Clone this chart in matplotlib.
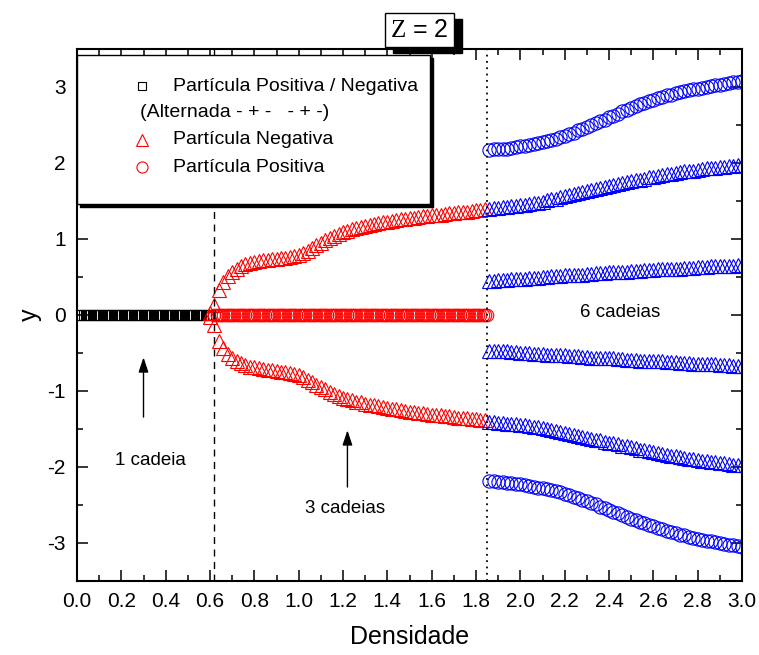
import numpy as np
import matplotlib
matplotlib.use('Agg')
import matplotlib.pyplot as plt
import matplotlib.font_manager as fm
from matplotlib.patches import Rectangle
from matplotlib.transforms import IdentityTransform

# single chain (alternating charges) and the 3-chain y=0 row
x_single = np.round(np.arange(0.0, 0.601, 0.01), 2)
y_single = np.zeros(len(x_single))
x_mid = np.round(np.arange(0.62, 1.851, 0.01), 2)
y_mid = np.zeros(len(x_mid))

# negative particles, 3-chain regime
x_red = np.round(np.arange(0.60, 1.841, 0.02), 2)
red_upper = [0.02, 0.13, 0.33, 0.43, 0.51, 0.57, 0.61, 0.64, 0.67, 0.68,
             0.70, 0.71, 0.72, 0.72, 0.74, 0.74, 0.75, 0.75, 0.76, 0.78,
             0.79, 0.82, 0.84, 0.88, 0.92, 0.95, 0.99, 1.01, 1.04, 1.07,
             1.09, 1.11, 1.13, 1.14, 1.16, 1.17, 1.18, 1.20, 1.21, 1.22,
             1.23, 1.24, 1.25, 1.26, 1.26, 1.28, 1.28, 1.29, 1.30, 1.30,
             1.31, 1.32, 1.32, 1.33, 1.34, 1.34, 1.35, 1.36, 1.36, 1.37,
             1.38, 1.38, 1.39]
red_lower = [-0.02, -0.13, -0.34, -0.44, -0.51, -0.56, -0.60, -0.63, -0.66, -0.68,
             -0.69, -0.70, -0.71, -0.72, -0.73, -0.74, -0.75, -0.75, -0.76, -0.77,
             -0.79, -0.82, -0.85, -0.88, -0.92, -0.95, -0.98, -1.01, -1.04, -1.06,
             -1.09, -1.11, -1.12, -1.14, -1.15, -1.17, -1.18, -1.19, -1.20, -1.21,
             -1.23, -1.24, -1.24, -1.25, -1.26, -1.27, -1.28, -1.29, -1.29, -1.30,
             -1.31, -1.31, -1.32, -1.33, -1.33, -1.34, -1.35, -1.35, -1.36, -1.37,
             -1.37, -1.38, -1.38]

# 6-chain regime
x_blue = np.round(np.arange(1.86, 3.001, 0.02), 2)
blue_c1 = [2.17, 2.18, 2.18, 2.19, 2.19, 2.20, 2.21, 2.22, 2.23, 2.24,
           2.25, 2.26, 2.27, 2.29, 2.30, 2.32, 2.34, 2.36, 2.38, 2.40,
           2.43, 2.45, 2.47, 2.50, 2.52, 2.55, 2.57, 2.60, 2.62, 2.65,
           2.68, 2.70, 2.73, 2.75, 2.77, 2.79, 2.81, 2.83, 2.85, 2.87,
           2.89, 2.90, 2.92, 2.93, 2.95, 2.96, 2.97, 2.98, 2.99, 3.00,
           3.01, 3.02, 3.03, 3.04, 3.05, 3.06, 3.07, 3.08]
blue_t2 = [1.40, 1.41, 1.41, 1.42, 1.42, 1.43, 1.44, 1.45, 1.45, 1.46,
           1.47, 1.48, 1.49, 1.51, 1.52, 1.53, 1.55, 1.56, 1.58, 1.59,
           1.60, 1.62, 1.63, 1.64, 1.66, 1.67, 1.68, 1.70, 1.71, 1.72,
           1.74, 1.75, 1.76, 1.77, 1.78, 1.79, 1.81, 1.82, 1.83, 1.84,
           1.85, 1.86, 1.87, 1.88, 1.89, 1.90, 1.90, 1.91, 1.92, 1.93,
           1.93, 1.94, 1.95, 1.95, 1.96, 1.96, 1.97, 1.97]
blue_t3 = [0.45, 0.45, 0.46, 0.46, 0.46, 0.47, 0.47, 0.48, 0.48, 0.49,
           0.49, 0.49, 0.50, 0.50, 0.51, 0.51, 0.51, 0.52, 0.52, 0.53,
           0.53, 0.53, 0.54, 0.54, 0.55, 0.55, 0.55, 0.56, 0.56, 0.56,
           0.57, 0.57, 0.58, 0.58, 0.58, 0.59, 0.59, 0.59, 0.60, 0.60,
           0.60, 0.61, 0.61, 0.61, 0.62, 0.62, 0.62, 0.63, 0.63, 0.63,
           0.64, 0.64, 0.64, 0.65, 0.65, 0.65, 0.66, 0.66]
blue_t4 = [-0.47, -0.47, -0.48, -0.48, -0.48, -0.49, -0.49, -0.50, -0.50, -0.50,
           -0.51, -0.51, -0.51, -0.52, -0.52, -0.53, -0.53, -0.53, -0.54, -0.54,
           -0.54, -0.55, -0.55, -0.56, -0.56, -0.56, -0.57, -0.57, -0.57, -0.58,
           -0.58, -0.59, -0.59, -0.59, -0.60, -0.60, -0.60, -0.61, -0.61, -0.61,
           -0.62, -0.62, -0.62, -0.63, -0.63, -0.63, -0.64, -0.64, -0.64, -0.65,
           -0.65, -0.65, -0.66, -0.66, -0.66, -0.67, -0.67, -0.67]
blue_t5 = [-1.41, -1.41, -1.42, -1.42, -1.43, -1.43, -1.44, -1.45, -1.45, -1.46,
           -1.47, -1.48, -1.49, -1.50, -1.51, -1.52, -1.54, -1.55, -1.56, -1.58,
           -1.59, -1.60, -1.62, -1.63, -1.64, -1.65, -1.67, -1.68, -1.69, -1.70,
           -1.72, -1.73, -1.74, -1.75, -1.77, -1.78, -1.79, -1.80, -1.81, -1.83,
           -1.84, -1.85, -1.86, -1.87, -1.88, -1.89, -1.90, -1.91, -1.92, -1.92,
           -1.93, -1.94, -1.95, -1.95, -1.96, -1.97, -1.97, -1.98]
blue_c6 = [-2.19, -2.19, -2.20, -2.20, -2.21, -2.21, -2.22, -2.23, -2.24, -2.25,
           -2.26, -2.27, -2.28, -2.29, -2.30, -2.32, -2.33, -2.35, -2.37, -2.39,
           -2.41, -2.43, -2.45, -2.47, -2.49, -2.52, -2.54, -2.56, -2.59, -2.61,
           -2.63, -2.66, -2.68, -2.70, -2.72, -2.74, -2.76, -2.78, -2.80, -2.82,
           -2.84, -2.86, -2.87, -2.89, -2.90, -2.92, -2.93, -2.95, -2.96, -2.97,
           -2.98, -2.99, -3.00, -3.01, -3.02, -3.03, -3.04, -3.05]

x_transition1 = 0.62
x_transition2 = 1.85
x_ticks = np.round(np.arange(0, 3.01, 0.2), 1)
y_ticks = [-3, -2, -1, 0, 1, 2, 3]

# pick a narrow face for tick labels if one is installed
names = {f.name for f in fm.fontManager.ttflist}
narrow = 'Liberation Sans Narrow' if 'Liberation Sans Narrow' in names else 'Liberation Sans'

plt.rcParams['font.family'] = ['Liberation Sans', 'DejaVu Sans']
plt.rcParams['mathtext.fontset'] = 'custom'
plt.rcParams['mathtext.rm'] = 'Liberation Serif'
plt.rcParams['axes.unicode_minus'] = False

fig = plt.figure(figsize=(7.59, 6.55), dpi=100)
ax = fig.add_axes([77/759, 1-581/655, 665/759, 532/655])

mk = dict(linestyle='none', markerfacecolor='none', markeredgewidth=0.8)
ax.plot(x_single, y_single, marker='s', markersize=7, markeredgecolor='black', **mk)
ax.plot(x_mid, y_mid, marker='o', markersize=9, markeredgecolor='red', **mk)
ax.plot(x_red, red_upper, marker='^', markersize=9.5, markeredgecolor='red', **mk)
ax.plot(x_red, red_lower, marker='^', markersize=9.5, markeredgecolor='red', **mk)
for yv in [blue_t2, blue_t3, blue_t4, blue_t5]:
    ax.plot(x_blue, yv, marker='^', markersize=9.5, markeredgecolor='blue', **mk)
for yv in [blue_c1, blue_c6]:
    ax.plot(x_blue, yv, marker='o', markersize=9.5, markeredgecolor='blue', **mk)

ax.axvline(x_transition1, color='black', lw=1, linestyle=(0, (5, 4)))
ax.axvline(x_transition2, color='black', lw=1.3, linestyle=(0, (1, 2.5)))

# arrows and chain labels
arrow = dict(arrowstyle='-|>,head_length=0.9,head_width=0.3', color='black', lw=1)
ax.annotate('', xy=(0.30, -0.52), xytext=(0.30, -1.38), arrowprops=arrow)
ax.annotate('', xy=(1.22, -1.48), xytext=(1.22, -2.30), arrowprops=arrow)
ax.text(0.33, -1.91, '1 cadeia', fontsize=13.5, ha='center', va='center')
ax.text(1.21, -2.54, '3 cadeias', fontsize=13.5, ha='center', va='center')
ax.text(2.45, 0.03, '6 cadeias', fontsize=13.5, ha='center', va='center')

ax.set_xlim(0, 3.0)
ax.set_ylim(-3.5, 3.5)
ax.set_xticks(x_ticks)
ax.set_xticks(np.round(np.arange(0.1, 3.0, 0.2), 1), minor=True)
ax.set_yticks(y_ticks)
ax.set_yticks([-3.5, -2.5, -1.5, -0.5, 0.5, 1.5, 2.5, 3.5], minor=True)
ax.set_xticklabels([f'{v:.1f}' for v in x_ticks])
ax.tick_params(which='both', direction='in', top=True, right=True, width=1.1)
ax.tick_params(which='major', length=8, pad=8, labelsize=15)
ax.tick_params(which='minor', length=4.5)
for lab in ax.get_xticklabels() + ax.get_yticklabels():
    lab.set_family(narrow)
for sp in ax.spines.values():
    sp.set_linewidth(1.5)

ax.set_xlabel('Densidade', fontsize=18, family=narrow, labelpad=10)
ax.set_ylabel('y', fontsize=18, labelpad=4)

# legend box with drop shadow
lx0, lx1, ly0, ly1 = 0.0, 0.531, 0.709, 0.989
ax.add_patch(Rectangle((lx0 + 0.0045, ly0 - 0.0056), lx1 - lx0, ly1 - ly0,
                       transform=ax.transAxes, facecolor='black', edgecolor='black',
                       zorder=5, clip_on=False))
ax.add_patch(Rectangle((lx0, ly0), lx1 - lx0, ly1 - ly0, transform=ax.transAxes,
                       facecolor='white', edgecolor='black', lw=1, zorder=6, clip_on=False))
rows = [0.930, 0.880, 0.829, 0.778]
ax.plot([0.098], [rows[0]], transform=ax.transAxes, marker='s', markersize=6,
        markeredgecolor='black', zorder=7, clip_on=False, **mk)
ax.plot([0.098], [rows[2]], transform=ax.transAxes, marker='^', markersize=9,
        markeredgecolor='red', zorder=7, clip_on=False, **mk)
ax.plot([0.098], [rows[3]], transform=ax.transAxes, marker='o', markersize=8,
        markeredgecolor='red', zorder=7, clip_on=False, **mk)
leg_txt = dict(transform=ax.transAxes, fontsize=14, va='center', ha='left', zorder=7)
ax.text(0.144, rows[0], 'Partícula Positiva / Negativa', **leg_txt)
ax.text(0.095, rows[1], '(Alternada - + -   - + -)', **leg_txt)
ax.text(0.144, rows[2], 'Partícula Negativa', **leg_txt)
ax.text(0.144, rows[3], 'Partícula Positiva', **leg_txt)

# title box, then a black drop shadow behind it
title = fig.text(0.5527, 0.954, r'$\mathrm{Z}$ = 2', fontsize=18, ha='center', va='center',
                 zorder=3, bbox=dict(boxstyle='square,pad=0.2', fc='white', ec='black', lw=1))
fig.canvas.draw()
bb = title.get_bbox_patch().get_window_extent()
fig.add_artist(Rectangle((bb.x0 + 8, bb.y0 - 6), bb.width, bb.height,
                         transform=IdentityTransform(), facecolor='black',
                         edgecolor='black', zorder=2))

fig.savefig('out.png', dpi=100)
